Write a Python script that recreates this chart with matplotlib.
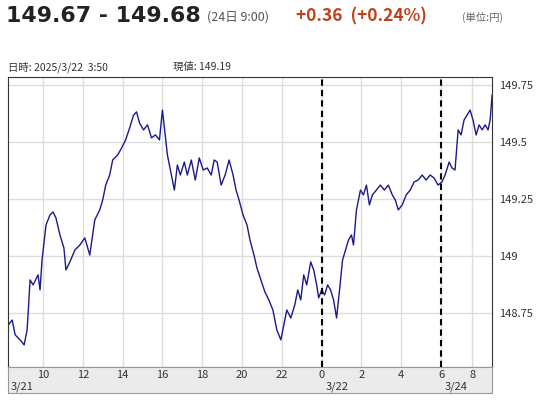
import matplotlib
matplotlib.use("Agg")
import matplotlib.pyplot as plt

plt.rcParams['font.family'] = ['Noto Sans CJK JP', 'DejaVu Sans']

hours = [8.25,8.45,8.6,8.85,9.05,9.2,9.35,9.5,9.75,9.85,9.95,10.15,10.35,10.5,10.65,10.85,11.05,11.15,11.35,11.6,11.85,12.1,12.35,12.6,12.85,13.0,13.15,13.35,13.5,13.75,13.95,14.15,14.35,14.55,14.7,14.85,15.05,15.25,15.45,15.65,15.85,16.0,16.1,16.25,16.45,16.6,16.75,16.9,17.1,17.25,17.45,17.65,17.85,18.05,18.25,18.45,18.6,18.75,18.95,19.15,19.35,19.55,19.7,19.85,20.05,20.25,20.4,20.6,20.75,20.95,21.15,21.35,21.55,21.75,21.95,22.1,22.25,22.45,22.65,22.8,22.95,23.1,23.25,23.45,23.6,23.75,23.85,24.0,24.15,24.3,24.45,24.6,24.75,24.9,25.05,25.2,25.35,25.5,25.6,25.75,25.95,26.1,26.25,26.4,26.55,26.75,26.95,27.15,27.35,27.55,27.7,27.85,28.05,28.25,28.45,28.65,28.85,29.05,29.25,29.45,29.65,29.85,
         30.06,30.26,30.52,30.71,30.9,31.1,31.29,31.48,31.68,31.87,32.06,32.26,32.45,32.65,32.84,33.03,33.16,33.29]
prices = [148.697,148.719,148.654,148.632,148.610,148.675,148.895,148.873,148.917,148.851,148.982,149.136,149.180,149.193,149.167,149.092,149.035,148.939,148.974,149.026,149.048,149.079,149.004,149.158,149.202,149.246,149.311,149.355,149.421,149.443,149.474,149.509,149.561,149.618,149.632,149.583,149.553,149.575,149.518,149.531,149.509,149.640,149.561,149.443,149.355,149.289,149.399,149.355,149.412,149.355,149.421,149.333,149.430,149.377,149.386,149.355,149.421,149.412,149.311,149.355,149.421,149.355,149.289,149.246,149.180,149.136,149.070,149.004,148.947,148.895,148.842,148.807,148.763,148.675,148.632,148.697,148.763,148.728,148.785,148.851,148.807,148.917,148.873,148.974,148.939,148.873,148.816,148.851,148.829,148.873,148.851,148.807,148.728,148.851,148.982,149.026,149.070,149.092,149.048,149.202,149.289,149.268,149.311,149.224,149.268,149.289,149.311,149.289,149.311,149.268,149.246,149.202,149.224,149.268,149.289,149.325,149.333,149.355,149.333,149.355,149.342,149.311,
          149.325,149.355,149.412,149.386,149.377,149.553,149.531,149.596,149.618,149.640,149.596,149.531,149.575,149.553,149.575,149.553,149.596,149.706]
tick_pos = [10,12,14,16,18,20,22,24,26,28,30,32]
tick_lab = ['10','12','14','16','18','20','22','0','2','4','6','8']
y_ticks = [148.75,149.0,149.25,149.5,149.75]
y_labs = ['148.75','149','149.25','149.5','149.75']
day_pos = [8.35,24.2,30.2]
day_lab = ['3/21','3/22','3/24']
dividers = [24,30]

def xs(h):
    # after the weekend break (3/24 session) the chart is compressed
    return h if h <= 30 else 30 + (h - 30) * 0.78

W,H = 538,400
fig = plt.figure(figsize=(W/100,H/100), dpi=100)
ax = fig.add_axes([8/W, 1-367/H, 484/W, 290/H])
ax.plot([xs(h) for h in hours], prices, color='#1a1a8c', lw=1.0)
ax.set_xlim(8.24, 32.56)
ax.set_ylim(148.513, 149.785)
ax.set_xticks([xs(p) for p in tick_pos])
ax.set_xticklabels([])
ax.tick_params(axis='x', length=0)
ax.grid(True, color='#dddddd', lw=1)
for d in dividers:
    ax.axvline(xs(d), color='black', ls=(0,(3,2)), lw=1.5)
ax.yaxis.tick_right()
ax.set_yticks(y_ticks)
ax.set_yticklabels(y_labs, fontsize=8, color='#333333')
ax.tick_params(axis='y', length=0, pad=5)
for s in ax.spines.values():
    s.set_color('#333333')

bx = fig.add_axes([8/W, 1-393/H, 484/W, 26/H], sharex=ax)
bx.set_facecolor('#ebebeb')
bx.set_yticks([])
bx.tick_params(axis='x', length=0, labelbottom=False)
for s in bx.spines.values():
    s.set_color('#999999')
for p, l in zip(tick_pos, tick_lab):
    bx.text(xs(p), 0.7, l, ha='center', va='center', fontsize=8, color='#333333', transform=bx.get_xaxis_transform())
for p, l in zip(day_pos, day_lab):
    bx.text(xs(p), 0.25, l, ha='left', va='center', fontsize=8, color='#333333', transform=bx.get_xaxis_transform())

fig.text(6/W, 1-16/H, '149.67 - 149.68', fontsize=15.8, fontweight='bold', color='#222222', va='center', family=['DejaVu Sans'])
fig.text(207/W, 1-17/H, '(24日 9:00)', fontsize=9, color='#555555', va='center')
fig.text(296/W, 1-16/H, '+0.36  (+0.24%)', fontsize=12.5, fontweight='bold', color='#c0401a', va='center')
fig.text(462/W, 1-17/H, '(単位:円)', fontsize=7.5, color='#666666', va='center')
fig.text(8/W, 1-67/H, '日時: 2025/3/22  3:50', fontsize=7.5, color='#333333', va='center')
fig.text(173/W, 1-67/H, '現値: 149.19', fontsize=7.5, color='#333333', va='center')
fig.savefig('out.png', dpi=100)
